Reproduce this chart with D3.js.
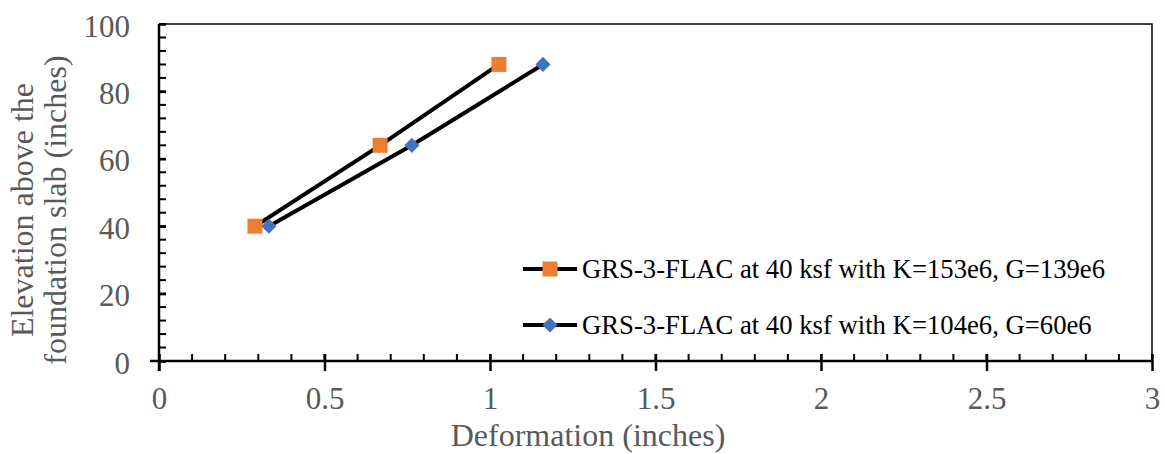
<!DOCTYPE html>
<html>
<head>
<meta charset="utf-8">
<script src="https://cdn.jsdelivr.net/npm/d3@7"></script>
<style>
  body { margin: 0; background: #fff; }
  svg { display: block; }
  text { font-family: "Liberation Serif", "Times New Roman", serif; }
</style>
</head>
<body>
<svg id="chart" width="1165" height="454"></svg>
<script>
// Series: deformation (inches) vs elevation above slab (inches)
const elevations = [40, 64, 88];
const deformK153 = [0.29, 0.668, 1.027];
const deformK104 = [0.332, 0.764, 1.16];
const seriesNames = [
  "GRS-3-FLAC at 40 ksf with K=153e6, G=139e6",
  "GRS-3-FLAC at 40 ksf with K=104e6, G=60e6"
];
const xTicks = [0, 0.5, 1, 1.5, 2, 2.5, 3];
const yTicks = [0, 20, 40, 60, 80, 100];

const svg = d3.select("#chart");
const plotL = 159, plotR = 1152, plotT = 24, plotB = 361;

const x = d3.scaleLinear().domain([0, 3]).range([plotL, plotR]);
const y = d3.scaleLinear().domain([0, 100]).range([plotB, plotT]);

const gray = "#595959";
const tickFont = "31px";
const titleFont = "32px";

// plot frame (top & right)
svg.append("path")
  .attr("d", `M${plotL},${plotT}H${plotR}V${plotB}`)
  .attr("fill", "none").attr("stroke", "#000").attr("stroke-width", 1.5);

// minor ticks (inside)
const xMinor = d3.range(0, 3.0001, 0.1);
svg.append("g").selectAll("line").data(xMinor).join("line")
  .attr("x1", d => x(d)).attr("x2", d => x(d))
  .attr("y1", plotB).attr("y2", plotB - 7)
  .attr("stroke", "#000").attr("stroke-width", 2);
const yMinor = d3.range(0, 100.0001, 4);
svg.append("g").selectAll("line").data(yMinor).join("line")
  .attr("y1", d => y(d)).attr("y2", d => y(d))
  .attr("x1", plotL).attr("x2", plotL + 7)
  .attr("stroke", "#000").attr("stroke-width", 2);

// x axis
const xAxis = svg.append("g").attr("transform", `translate(0,${plotB})`)
  .call(d3.axisBottom(x).tickValues(xTicks).tickFormat(d3.format("")).tickSizeInner(10).tickSizeOuter(0));
xAxis.select(".domain").attr("stroke", "#000").attr("stroke-width", 2.5).attr("d", `M${plotL - 9},0H${plotR}`);
xAxis.selectAll(".tick line").attr("stroke", "#000").attr("stroke-width", 2.5).attr("y1", -7);
xAxis.selectAll(".tick text").attr("fill", gray).attr("y", 48).attr("dy", 0)
  .style("font-size", tickFont).style("font-family", "Liberation Serif");

// y axis
const yAxis = svg.append("g").attr("transform", `translate(${plotL},0)`)
  .call(d3.axisLeft(y).tickValues(yTicks).tickSizeInner(9).tickSizeOuter(0).tickPadding(20));
yAxis.select(".domain").attr("stroke", "#000").attr("stroke-width", 2.5).attr("d", `M0,${plotB + 10}V${plotT}`);
yAxis.selectAll(".tick line").attr("stroke", "#000").attr("stroke-width", 2.5).attr("x2", 7);
yAxis.selectAll(".tick text").attr("fill", gray).attr("dy", "0.39em")
  .style("font-size", tickFont).style("font-family", "Liberation Serif");

// axis titles
svg.append("text").attr("x", 588).attr("y", 446)
  .attr("text-anchor", "middle").attr("fill", gray).style("font-size", titleFont)
  .text("Deformation (inches)");
const yt = svg.append("text").attr("transform", `translate(33,210) rotate(-90)`)
  .attr("text-anchor", "middle").attr("fill", gray).style("font-size", titleFont);
yt.append("tspan").attr("x", 0).attr("dy", 0).text("Elevation above the");
yt.append("tspan").attr("x", 0).attr("dy", 33).text("foundation slab (inches)");

// series
const line = d3.line().x(d => x(d[0])).y(d => y(d[1]));
const s1 = deformK153.map((d, i) => [d, elevations[i]]);
const s2 = deformK104.map((d, i) => [d, elevations[i]]);

[s1, s2].forEach(s => {
  svg.append("path").datum(s).attr("d", line)
    .attr("fill", "none").attr("stroke", "#000").attr("stroke-width", 4);
});

const sq = d3.symbol().type(d3.symbolSquare).size(225);
const dm = d3.symbol().type(d3.symbolSquare).size(115);
svg.append("g").selectAll("path").data(s1).join("path")
  .attr("d", sq).attr("transform", d => `translate(${x(d[0])},${y(d[1])})`)
  .attr("fill", "#ED7D31");
svg.append("g").selectAll("path").data(s2).join("path")
  .attr("d", dm).attr("transform", d => `translate(${x(d[0])},${y(d[1])}) rotate(45)`)
  .attr("fill", "#4472C4");

// legend
const legendY = [269, 325];
const lg = svg.append("g");
seriesNames.forEach((name, i) => {
  const ly = legendY[i];
  lg.append("line").attr("x1", 523).attr("x2", 577).attr("y1", ly).attr("y2", ly)
    .attr("stroke", "#000").attr("stroke-width", 4);
  lg.append("path").attr("d", i === 0 ? sq : dm)
    .attr("transform", i === 0 ? `translate(550,${ly})` : `translate(550,${ly}) rotate(45)`)
    .attr("fill", i === 0 ? "#ED7D31" : "#4472C4");
  lg.append("text").attr("x", 582).attr("y", ly + 8.5).attr("fill", "#000")
    .style("font-size", "26.7px").text(name);
});
</script>
</body>
</html>
